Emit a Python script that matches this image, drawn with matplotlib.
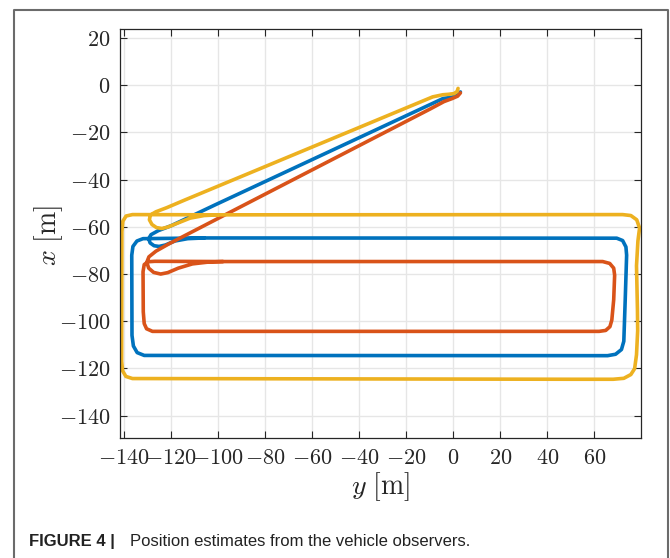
import matplotlib.pyplot as plt
from matplotlib.lines import Line2D
from matplotlib.ticker import FuncFormatter

plt.rcParams['mathtext.fontset'] = 'cm'

# observer 1 (blue): horizontal axis y [m], vertical axis x [m]
obs1_y = [3.0, 1.8, -0.5, -4.4, -101.4, -120.0, -125.5, -128.6, -129.6, -129.0,
          -127.3, -125.2, -122.5, -118.5, -113.0, -106.0, 69.5, 72.0, 73.4, 73.7,
          73.1, 72.5, 71.5, 69.0, 65.6, -131.5, -134.5, -136.1, -136.7, -136.8,
          -136.3, -134.6, -132.0, -106.0]
obs1_x = [-2.8, -4.2, -5.0, -5.6, -50.7, -59.5, -61.6, -63.3, -65.0, -66.8,
          -68.0, -68.3, -67.7, -66.0, -65.0, -64.7, -64.8, -65.8, -68.5, -72.0,
          -90.9, -108.5, -112.0, -114.0, -114.6, -114.5, -113.3, -110.5, -106.0, -72.0,
          -68.3, -66.0, -65.0, -64.7]

# observer 2 (orange)
obs2_y = [3.0, 1.8, -0.5, -4.0, -10.0, -101.4, -121.0, -126.5, -129.5, -130.4,
          -129.6, -127.5, -124.5, -121.5, -117.0, -111.0, -104.0, -98.0, 63.5, 66.5,
          68.2, 68.6, 68.2, 67.4, 66.6, 64.8, 62.0, -128.0, -130.5, -131.5,
          -131.9, -132.0, -131.5, -130.0, -127.0, -98.0]
obs2_x = [-3.2, -4.6, -5.6, -6.9, -10.1, -57.1, -67.2, -70.3, -72.7, -75.0,
          -77.5, -79.3, -80.0, -79.4, -77.5, -75.7, -74.9, -74.7, -74.7, -75.5,
          -77.5, -80.5, -90.9, -99.5, -102.3, -103.9, -104.3, -104.3, -103.2, -101.0,
          -96.0, -79.0, -76.0, -74.8, -74.6, -74.7]

# observer 3 (yellow)
obs3_y = [2.0, 1.6, 0.3, -2.0, -4.5, -8.8, -114.2, -122.0, -126.5, -128.9, -129.3,
          -128.2, -126.3, -124.0, -121.5, -117.0, -112.0, -106.0, -100.0, 72.0, 75.5,
          78.0, 79.2, 78.5, 77.9, 78.3, 78.4, 77.9, 77.1, 75.5, 72.5,
          68.0, 50.0, -136.5, -139.3, -140.7, -141.1, -141.0, -140.6, -139.2,
          -136.5, -100.0]
obs3_x = [-1.3, -2.6, -3.5, -3.8, -4.0, -4.9, -48.6, -51.9, -53.6, -55.0, -57.0,
          -59.0, -60.3, -60.7, -60.1, -58.3, -56.3, -55.2, -54.9, -54.8, -55.2,
          -57.0, -60.5, -66.0, -76.5, -95.0, -104.0, -114.2, -120.1, -122.6, -124.2,
          -124.6, -124.6, -124.3, -123.4, -121.0, -117.0, -62.0, -57.6, -55.4,
          -54.8, -54.9]

x_ticks = list(range(-140, 61, 20))
y_ticks = list(range(-140, 21, 20))

W, H = 670, 558
fig = plt.figure(figsize=(W / 100, H / 100), dpi=100)
ax = fig.add_axes([120 / W, 120 / H, 520.5 / W, 409.3 / H])

style = dict(lw=2.6, solid_capstyle='round', solid_joinstyle='round')
ax.plot(obs1_y, obs1_x, color='#0072BD', **style)
ax.plot(obs2_y, obs2_x, color='#D95319', **style)
ax.plot(obs3_y, obs3_x, color='#EDB120', **style)

ax.set_xlim(-141.8, 79.6)
ax.set_ylim(-149.5, 24.0)
ax.set_xticks(x_ticks)
ax.set_yticks(y_ticks)
fmt = FuncFormatter(lambda v, pos: r'$%d$' % v)
ax.xaxis.set_major_formatter(fmt)
ax.yaxis.set_major_formatter(fmt)
ax.tick_params(direction='in', length=5, width=0.8, color='#262626',
               labelcolor='#262626', labelsize=16, top=True, right=True, pad=7)
ax.grid(True, color='#e6e6e6', lw=1.0)
ax.set_axisbelow(True)
for s in ax.spines.values():
    s.set_color('#262626')
    s.set_linewidth(0.9)

ax.set_xlabel(r'$y\ [\mathrm{m}]$', fontsize=20, labelpad=2, color='#262626')
ax.set_ylabel(r'$x\ [\mathrm{m}]$', fontsize=20, color='#262626')
ax.yaxis.set_label_coords(-0.106, 0.496)

# frame around figure and caption
fx0, fx1, fy1 = 14 / W, 667.5 / W, 1 - 9.5 / H
fig.add_artist(Line2D([fx0, fx0, fx1, fx1], [0, fy1, fy1, 0], color='#6b6b6b', lw=1.5))

fig.text(29 / W, 12 / H, 'FIGURE 4 |', family='Liberation Sans', weight='bold',
         fontsize=12, color='#222222')
fig.text(130.5 / W, 12 / H, 'Position estimates from the vehicle observers.',
         family='Liberation Sans', fontsize=12, color='#222222')

fig.savefig('out.png', dpi=100)
